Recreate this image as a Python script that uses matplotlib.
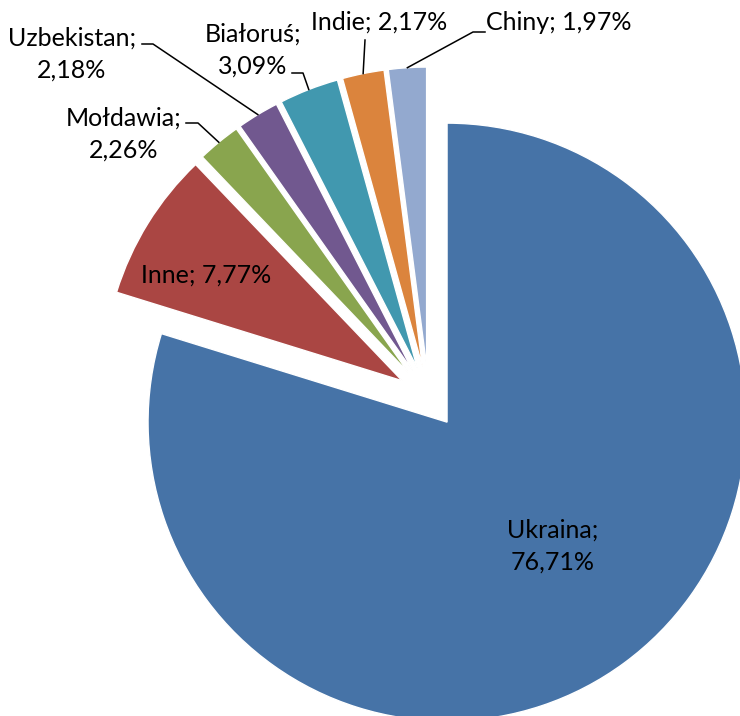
import matplotlib.pyplot as plt
import numpy as np

kraje = ["Ukraina", "Inne", "Mołdawia", "Uzbekistan", "Białoruś", "Indie", "Chiny"]
udzialy = [76.71, 7.77, 2.26, 2.18, 3.09, 2.17, 1.97]
kolory = ["#4673A7", "#AA4643", "#89A54E", "#71588F", "#4198AF", "#DB843D", "#93A9CF"]
etykiety = ["Ukraina;\n76,71%", "Inne; 7,77%", "Mołdawia;\n2,26%", "Uzbekistan;\n2,18%",
            "Białoruś;\n3,09%", "Indie; 2,17%", "Chiny; 1,97%"]

plt.rcParams['font.family'] = ['Lato', 'DejaVu Sans']

W, H = 740, 716
R = 299.0                   # promień koła w pikselach
cx, cy = 428.6, 397.1       # środek koła w pikselach (od lewego górnego rogu)


def px(x, y):
    # piksele obrazu -> współrzędne danych
    return (x - cx) / R, (cy - y) / R


fig = plt.figure(figsize=(W / 100, H / 100), dpi=100)
ax = fig.add_axes([0, 0, 1, 1])
wedges, _ = ax.pie(udzialy, colors=kolory, startangle=90, counterclock=False,
                   explode=[0.104] * len(udzialy),
                   wedgeprops=dict(edgecolor="white", linewidth=1.0))
ax.set_aspect("auto")
ax.set_xlim(px(0, 0)[0], px(W, 0)[0])
ax.set_ylim(px(0, H)[1], px(0, 0)[1])
ax.axis("off")

# pozycje etykiet (piksele) i łamane linii odniesienia
poz = {
    "Ukraina": (553, 546),
    "Inne": (206, 275),
    "Mołdawia": (124, 134),
    "Uzbekistan": (72, 54),
    "Białoruś": (253, 50),
    "Indie": (379, 22),
    "Chiny": (559, 22),
}
linie = {
    "Mołdawia": [(186, 123), (198, 123)],
    "Uzbekistan": [(142, 44), (153, 44)],
    "Białoruś": [(292, 73), (303, 73)],
    "Indie": [(365, 40)],
    "Chiny": [(485, 32), (473, 32)],
}

for w, k, et in zip(wedges, kraje, etykiety):
    ax.text(*px(*poz[k]), et, ha="center", va="center", fontsize=18,
            linespacing=1.45, color="black")
    if k in linie:
        kat = np.deg2rad((w.theta1 + w.theta2) / 2)
        x0, y0 = w.center
        pts = [px(*p) for p in linie[k]]
        pts.append((x0 + w.r * np.cos(kat), y0 + w.r * np.sin(kat)))
        xs, ys = zip(*pts)
        ax.plot(xs, ys, color="black", linewidth=1.1)

fig.savefig("out.png", dpi=100)
